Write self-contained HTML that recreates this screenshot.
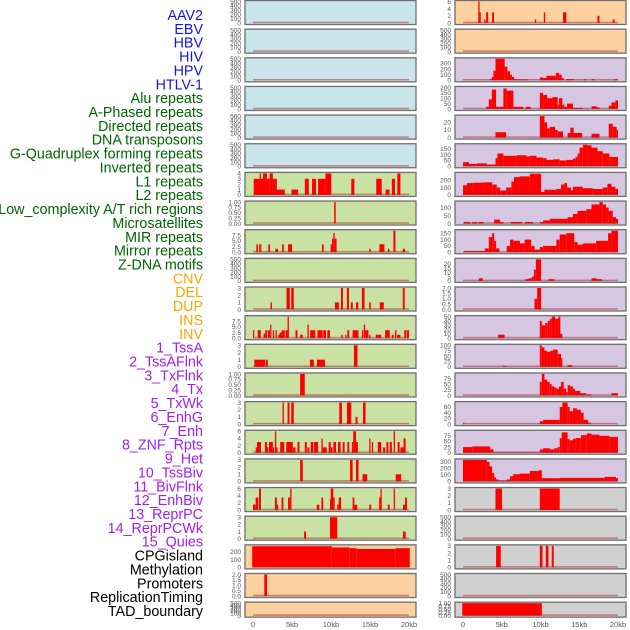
<!DOCTYPE html>
<html><head><meta charset="utf-8"><style>
html,body{margin:0;padding:0;background:#fff;width:630px;height:630px;overflow:hidden}
svg{display:block;font-family:"Liberation Sans",sans-serif}
</style></head><body>
<svg id="chart" width="630" height="630"></svg>
<script>
const labelNames=["AAV2","EBV","HBV","HIV","HPV","HTLV-1","Alu repeats","A-Phased repeats","Directed repeats","DNA transposons","G-Quadruplex forming repeats","Inverted repeats","L1 repeats","L2 repeats","Low_complexity A/T rich regions","Microsatellites","MIR repeats","Mirror repeats","Z-DNA motifs","CNV","DEL","DUP","INS","INV","1_TssA","2_TssAFlnk","3_TxFlnk","4_Tx","5_TxWk","6_EnhG","7_Enh","8_ZNF_Rpts","9_Het","10_TssBiv","11_BivFlnk","12_EnhBiv","13_ReprPC","14_ReprPCWk","15_Quies","CPGisland","Methylation","Promoters","ReplicationTiming","TAD_boundary"];
const labelColors=["#1414e6","#1414e6","#1414e6","#1414e6","#1414e6","#1414e6","#006400","#006400","#006400","#006400","#006400","#006400","#006400","#006400","#006400","#006400","#006400","#006400","#006400","#ffa500","#ffa500","#ffa500","#ffa500","#ffa500","#a020f0","#a020f0","#a020f0","#a020f0","#a020f0","#a020f0","#a020f0","#a020f0","#a020f0","#a020f0","#a020f0","#a020f0","#a020f0","#a020f0","#a020f0","#000","#000","#000","#000","#000"];
const xTickValues=[0,5,10,15,20];
const xTickLabels=["0","5kb","10kb","15kb","20kb"];
const ticks500=[0,100,200,300,400,500];
const leftYmax=[500,500,500,500,500,500,4,1,9.5,500,3,9.5,3,1,3,6,3,6,3,275,2,500];
const leftTicks=[ticks500,ticks500,ticks500,ticks500,ticks500,ticks500,[0,1,2,3,4],[0,0.25,0.5,0.75,1],[0,2.5,5,7.5],ticks500,[0,1,2,3],[0,2.5,5,7.5],[0,1,2,3],[0,0.25,0.5,0.75,1],[0,1,2,3],[0,2,4,6],[0,1,2,3],[0,2,4,6],[0,1,2,3],[0,100,200],[0,0.5,1,1.5,2],ticks500];
const leftDec=[0,0,0,0,0,0,0,2,1,0,0,1,0,2,0,0,0,0,0,0,1,0];
const rightYmax=[6,500,380,200,28,185,290,135,170,25,2,50,100,95,75,95,330,3,500,3,500,1];
const rightTicks=[[0,2,4,6],ticks500,[0,100,200,300],[0,50,100,150,200],[0,10,20],[0,50,100,150],[0,100,200],[0,50,100],[0,50,100,150],[0,5,10,15,20],[0,0.5,1,1.5,2],[0,10,20,30,40,50],[0,25,50,75,100],[0,25,50,75],[0,20,40,60],[0,25,50,75],[0,100,200,300],[0,1,2,3],ticks500,[0,1,2,3],ticks500,[0,0.25,0.5,0.75,1]];
const rightDec=[0,0,0,0,0,0,0,0,0,0,1,0,0,0,0,0,0,0,0,0,0,2];
const leftBg=["#c9e4ea","#c9e4ea","#c9e4ea","#c9e4ea","#c9e4ea","#c9e4ea","#c9e2a4","#c9e2a4","#c9e2a4","#c9e2a4","#c9e2a4","#c9e2a4","#c9e2a4","#c9e2a4","#c9e2a4","#c9e2a4","#c9e2a4","#c9e2a4","#c9e2a4","#fdd0a0","#fdd0a0","#fdd0a0"];
const rightBg=["#fdd0a0","#fdd0a0","#d6c6e2","#d6c6e2","#d6c6e2","#d6c6e2","#d6c6e2","#d6c6e2","#d6c6e2","#d6c6e2","#d6c6e2","#d6c6e2","#d6c6e2","#d6c6e2","#d6c6e2","#d6c6e2","#d6c6e2","#d0d0d0","#d0d0d0","#d0d0d0","#d0d0d0","#d0d0d0"];
// bars: [startKb, endKb, value]
const L6=[[0.09,1.02,3],[0.85,1.02,4],[1.28,1.79,4],[1.02,1.28,3],[1.79,2.13,3],[2.13,2.55,4],[2.55,3.06,3],[3.06,4.09,1],[4.94,5.79,1],[6.64,7.15,3],[7.57,8.09,3],[8.34,9.28,3],[9.28,10.04,4],[9.0,9.28,1],[12.6,13.0,3],[15.8,16.5,3],[17.0,17.5,1],[17.8,18.2,3],[18.5,18.9,4]];
const L7=[[10.4,10.6,1]];
const L8=[[0.43,0.64,3.5],[0.8,1.06,3.5],[1.96,2.17,3.5],[2.85,3.2,1.5],[3.74,3.96,3.5],[4.5,5.0,3.5],[8.85,9.06,3.5],[9.96,10.13,3.5],[10.13,10.3,6],[10.3,10.47,8.5],[10.47,10.72,6],[14.9,15.1,1.5],[16.2,16.85,3.5],[17.3,17.5,1.5],[18.0,18.26,9.5],[19.2,19.5,1.5]];
const L10=[[2.25,2.43,1],[4.3,4.72,3],[4.9,5.23,3],[10.5,11.0,1],[11.28,11.53,3],[12.04,12.3,3],[12.55,12.8,1],[13.2,13.5,1],[13.96,14.3,3],[14.9,15.1,1],[16.25,16.77,1],[19.2,19.45,3]];
const L11=[[0,0.13,3.5],[0.6,1.0,3.5],[1.36,1.57,2],[1.57,1.79,3.5],[1.9,2.2,3.5],[2.2,2.3,6],[2.55,2.72,3.5],[2.9,3.06,3.5],[3.23,3.4,1.5],[3.4,3.66,2.5],[3.66,4.08,3.5],[4.17,4.43,3.5],[4.43,4.6,9.5],[5.45,5.7,3.5],[6.04,6.38,1.5],[6.98,7.15,6],[7.32,8.0,3.5],[8.26,8.94,3.5],[9.0,9.36,3.5],[9.53,9.87,3.5],[11.3,11.5,1.5],[11.83,12.0,1.5],[12.1,12.34,3.5],[12.77,13.53,3.5],[13.96,14.13,3.5],[14.2,14.38,6],[14.38,14.8,3.5],[14.9,15.06,1.5],[15.74,16.43,1.5],[16.94,17.53,3.5],[17.8,18.04,1.5],[18.2,18.38,3.5],[18.47,18.9,1.5],[19.4,19.66,3.5],[19.74,20,3.5]];
const L12=[[0.17,1.57,1],[1.66,1.9,1],[7.3,7.8,1],[8.2,9.23,1],[12.94,13.4,3]];
const L13=[[6.04,6.64,1]];
const L14=[[3.79,3.96,3],[4.43,4.68,3],[4.9,5.23,3],[11.06,11.4,3],[12.04,12.6,3],[13.15,13.4,1],[14.1,14.43,3]];
const L15=[[0.34,0.51,1.5],[0.51,1.02,3],[1.53,1.79,3],[1.79,1.96,1.5],[2.04,2.55,3],[2.55,2.72,1.5],[2.81,2.98,6],[2.98,3.15,1.5],[3.49,4.0,3],[4.26,5.1,3],[5.1,5.45,1.5],[5.7,5.96,3],[6.64,6.9,3],[6.98,7.23,1.5],[7.4,7.74,3],[7.83,8.34,3],[8.77,8.94,4],[8.94,9.45,1.5],[9.7,9.96,3],[9.96,10.2,1.5],[10.3,10.64,3],[10.9,11.23,3],[11.5,11.74,3],[12.1,12.34,3],[12.68,12.85,3],[12.85,13.2,6],[13.2,13.45,3],[14.9,15.06,4],[15.23,15.4,3],[16.0,16.43,3],[16.68,16.94,1.5],[17.1,17.36,3],[17.53,17.8,3],[18.04,18.2,6],[18.55,18.8,3],[18.9,19.3,1.5],[19.3,19.57,4]];
const L16=[[6.04,6.38,3],[12.43,12.77,3],[13.2,13.53,3],[14.04,14.64,1],[18.3,19.0,1]];
const L17=[[0,0.34,1.5],[0.34,0.68,3.5],[0.77,1.02,6],[2.81,3.06,3.5],[3.06,3.23,1.5],[3.66,3.9,3.5],[4.5,4.77,3.5],[4.77,4.94,6],[8.17,8.5,1.5],[8.77,9.0,3.5],[9.87,9.96,3],[9.96,10.3,6],[10.3,10.47,3.5],[10.8,10.98,1.5],[10.98,11.3,3.5],[12.77,13.0,3.5],[13.0,13.36,1.5],[14.9,15.15,1.5],[16.17,16.34,3.5],[16.34,16.5,6],[17.28,17.53,1.5],[18.04,18.2,6],[19.23,19.5,1.5],[19.5,19.74,3.5]];
const L18=[[6.55,6.8,1],[9.87,10.8,3],[19.23,19.57,1]];
const L19=[[-0.1,10.1,270],[10.1,12.4,255],[12.4,13.3,245],[13.3,18.3,235],[18.3,20.1,245]];
const L20=[[1.45,1.8,2]];
const R0=[[1.97,2.14,6],[2.14,2.22,3],[2.74,2.91,1],[2.99,3.25,3],[3.76,4.0,3],[9.27,9.44,1],[10.43,10.6,3],[12.91,13.33,3],[17.35,17.61,2],[19.32,19.57,1]];
const R2=[[3.42,3.72,20],[3.72,3.93,60],[3.93,4.19,170],[4.19,5.38,380],[5.38,5.73,240],[5.73,6.07,160],[6.07,6.32,100],[6.32,6.58,60],[6.58,6.92,20],[6.92,8.42,15],[9.91,10.34,50],[10.34,10.77,40],[10.77,11.97,80],[11.97,12.39,130],[12.39,12.74,100],[12.74,12.99,40],[13.33,14.36,20],[15.56,15.9,20],[16.58,17.01,20],[19.49,20,20]];
const R3=[[2.99,3.33,20],[3.33,3.72,90],[3.72,4.27,180],[4.27,5.21,20],[5.21,5.64,190],[5.64,6.5,170],[6.5,7.78,20],[8.12,8.72,20],[9.91,10.34,150],[10.34,10.85,130],[10.85,11.54,100],[11.54,12.22,110],[12.22,12.39,40],[12.39,12.82,100],[12.82,13.08,40],[13.08,13.42,20],[13.42,14.19,50],[14.19,15.47,10],[16.58,17.26,25],[17.26,17.61,15],[18.8,19.15,30],[19.15,19.66,60],[19.66,20,80]];
const R4=[[4.19,5.56,7],[9.91,10.51,28],[10.51,10.85,20],[10.85,11.2,12],[11.2,11.88,14],[11.88,12.22,10],[12.22,12.91,8],[13.5,13.85,6],[13.85,14.27,13],[14.27,15.38,6],[16.58,17.61,5],[18.8,19.32,18],[19.32,19.83,14],[19.83,20,10]];
const R5=[[0,0.77,35],[0.77,1.79,20],[1.79,3.08,25],[3.08,4.19,15],[4.19,4.44,70],[4.44,5.21,110],[5.21,6.92,90],[6.92,8.2,95],[8.2,8.63,85],[8.63,9.49,90],[9.49,10.34,75],[10.34,10.77,70],[10.77,11.62,55],[11.62,12.48,60],[12.48,13.33,50],[13.33,14.19,55],[14.19,14.53,65],[14.53,14.79,80],[14.79,15.04,110],[15.04,15.47,160],[15.47,16.07,185],[16.07,16.58,180],[16.58,17.35,160],[17.35,18.03,130],[18.03,18.89,110],[18.89,20,80]];
const R6=[[0,0.51,130],[0.51,1.37,160],[1.37,2.65,165],[2.65,3.76,170],[3.76,4.36,140],[4.36,4.79,100],[4.79,5.56,60],[5.56,6.24,100],[6.24,6.58,180],[6.58,7.35,240],[7.35,8.63,250],[8.63,10.08,285],[10.08,10.51,40],[10.51,12.05,70],[12.05,12.65,80],[12.65,13.08,140],[13.08,13.42,160],[13.42,13.93,100],[13.93,14.19,60],[14.19,15.47,110],[15.47,16.75,90],[16.75,18.03,80],[18.03,18.63,100],[18.63,19.15,150],[19.15,19.66,110],[19.66,20,80]];
const R7=[[0.09,0.94,10],[1.2,1.79,10],[1.97,2.65,10],[4.02,4.79,25],[4.79,5.21,10],[6.15,7.61,10],[8.03,9.06,10],[9.91,10.34,10],[10.34,11.2,20],[11.2,13.5,30],[13.5,14.19,40],[14.19,14.79,60],[14.79,15.9,80],[15.9,16.58,90],[16.58,17.61,120],[17.61,18.03,135],[18.03,18.46,120],[18.46,18.8,100],[18.8,19.32,80],[19.32,19.74,40],[19.74,20,30]];
const R8=[[0.09,2.82,10],[2.82,3.33,30],[3.33,3.76,120],[3.76,4.02,150],[4.02,4.27,90],[4.27,4.7,30],[5.64,6.07,50],[6.07,6.5,100],[6.5,7.35,90],[7.35,7.95,70],[7.95,8.8,100],[8.8,9.23,50],[9.23,9.91,20],[9.91,10.34,40],[10.34,12.05,50],[12.05,12.48,100],[12.48,13.33,140],[13.33,14.36,150],[14.36,14.79,80],[14.79,15.47,60],[15.47,17.18,70],[17.18,18.72,90],[18.72,19.15,150],[19.15,20,170]];
const R9=[[2.05,2.56,3],[8.03,8.46,2],[8.46,8.89,3],[8.89,9.15,5],[9.15,9.4,13],[9.4,10.08,25],[11.03,11.79,2],[16.58,17.26,3],[17.26,17.95,2]];
const R10=[[9.23,9.57,1],[9.57,10.08,2]];
const R11=[[4.53,5.38,8],[9.91,10.17,40],[10.17,10.6,30],[10.6,10.94,35],[10.94,11.2,40],[11.2,11.45,45],[11.45,11.88,50],[11.88,12.31,45],[12.31,12.56,50],[12.56,12.82,10]];
const R12=[[5.13,5.56,5],[9.91,10.17,100],[10.17,10.51,90],[10.51,10.85,75],[10.85,11.28,70],[11.28,11.62,75],[11.62,12.22,80],[12.22,12.65,60],[12.65,12.82,40],[13.5,14.1,8]];
const R13=[[9.91,10.17,60],[10.17,10.51,95],[10.51,10.85,70],[10.85,11.2,60],[11.2,11.45,50],[11.45,11.79,40],[11.79,12.05,35],[12.05,12.39,30],[12.39,12.65,40],[12.65,12.99,60],[12.99,13.33,30],[13.33,13.5,15],[13.5,13.85,45],[13.85,14.19,40],[14.19,14.44,30],[14.44,15.13,20],[15.13,15.9,10],[15.9,16.58,5],[19.15,20,10]];
const R14=[[0,0.17,5],[9.91,10.34,10],[10.34,12.48,15],[12.48,12.82,60],[12.82,13.5,75],[13.5,13.76,60],[13.76,14.19,45],[14.19,14.7,55],[14.7,15.21,50],[15.21,15.56,40],[15.56,16.15,15],[16.15,16.5,5]];
const R15=[[0,1.2,25],[1.2,3.5,28],[3.5,3.93,15],[3.93,9.91,2],[9.91,10.34,15],[10.34,11.2,20],[11.2,11.79,15],[11.79,12.22,20],[12.22,12.48,25],[12.48,12.74,65],[12.74,13.5,90],[13.5,13.76,60],[13.76,14.19,55],[14.19,14.53,62],[14.53,15.21,65],[15.21,15.98,78],[15.98,16.58,85],[16.58,17.61,80],[17.61,18.89,75],[18.89,20,70]];
const R16=[[0,3.08,330],[3.08,3.42,300],[3.42,3.76,230],[3.76,4.02,130],[4.02,4.27,60],[4.27,4.62,30],[4.62,5.64,15],[5.64,6.07,30],[6.07,6.5,80],[6.5,7.35,110],[7.35,8.63,120],[8.63,9.74,160],[9.74,10.17,170],[10.17,12.48,50],[12.48,18.29,55],[18.29,19.74,70],[19.74,20,50]];
const R17=[[4.19,5.04,3],[9.91,12.48,3]];
const R19=[[4.27,4.87,3],[9.91,10.26,3],[10.68,11.03,3],[11.45,11.71,3]];
const R21=[[-0.1,10.17,1]];
const leftBars=[[],[],[],[],[],[],L6,L7,L8,[],L10,L11,L12,L13,L14,L15,L16,L17,L18,L19,L20,[]];
const rightBars=[R0,[],R2,R3,R4,R5,R6,R7,R8,R9,R10,R11,R12,R13,R14,R15,R16,R17,[],R19,[],R21];

const NS="http://www.w3.org/2000/svg";
const svg=document.getElementById('chart');
function mk(tag,attrs,parent){const e=document.createElementNS(NS,tag);for(const k in attrs)e.setAttribute(k,attrs[k]);(parent||svg).appendChild(e);return e;}

labelNames.forEach((t,i)=>{
  const el=mk('text',{x:203,y:20+i*(596/43),'text-anchor':'end','font-size':14.3,fill:labelColors[i]});
  
  
  el.textContent=t;
});

const cols=[{x0:245,x1:416,z:253,s:7.8,tx:241,bars:leftBars,ym:leftYmax,tk:leftTicks,dec:leftDec,bg:leftBg,name:'left'},
            {x0:455,x1:626,z:463,s:7.75,tx:451,bars:rightBars,ym:rightYmax,tk:rightTicks,dec:rightDec,bg:rightBg,name:'right'}];
cols.forEach(c=>{
  for(let r=0;r<22;r++){
    const top=r*28.65+0.5, h=(r===21?15:24);
    const g=mk('g',{});
    
    
    const bg=mk('rect',{x:c.x0,y:top,width:c.x1-c.x0,height:h,fill:c.bg[r],stroke:'#6e6e6e','stroke-width':1.3},g);
    
    
    const yb=top+h-1.5, yt=top+1, ym=c.ym[r];
    const yS=v=>yb-(v/ym)*(yb-yt);
    const xS=k=>c.z+Math.max(-1,Math.min(20.3,k))*c.s;
    c.bars[r].forEach(b=>{
      const x=xS(b[0]),w=Math.max(1.2,xS(b[1])-x),y=yS(b[2]);
      const bar=mk('rect',{x:x,y:y,width:w,height:yb-y,fill:'#ff0000'},g);
      
      
    });
    const bl=mk('line',{x1:xS(0),x2:xS(20),y1:yb-0.5,y2:yb-0.5,stroke:'rgba(170,30,30,0.5)','stroke-width':1.5},g);
    
    
    c.tk[r].forEach(v=>{
      const tt=mk('text',{x:c.tx,y:yS(v)+2.3,'text-anchor':'end','font-size':6.5,fill:'#555'},g);
      
      
      tt.textContent=v.toFixed(c.dec[r]);
    });
  }
  xTickValues.forEach((v,i)=>{
    const t=mk('text',{x:c.z+v*c.s,y:627,'text-anchor':'middle','font-size':7.5,fill:'#555'});
    
    
    t.textContent=xTickLabels[i];
  });
});
</script>
</body></html>
